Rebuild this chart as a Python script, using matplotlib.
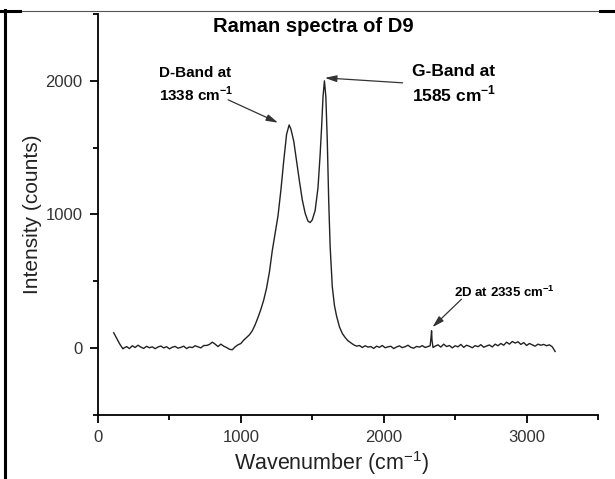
import matplotlib.pyplot as plt
from matplotlib.lines import Line2D
from matplotlib.ticker import MultipleLocator

plt.rcParams['font.family'] = ['Liberation Sans', 'DejaVu Sans']
plt.rcParams['mathtext.fontset'] = 'custom'
plt.rcParams['mathtext.rm'] = 'Liberation Sans'
plt.rcParams['mathtext.bf'] = 'Liberation Sans:bold'

# spectrum (wavenumber in cm-1, intensity in counts)
wn_start = [110, 120, 135, 150, 165, 175]
int_start = [115, 95, 65, 35, 10, -5]

wn_base1 = [180, 200, 220, 240, 260, 280, 300, 320, 340, 360, 380, 400, 420, 440,
            460, 480, 500, 520, 540, 560, 580, 600, 620, 640, 660, 680, 700, 720,
            740, 760, 780, 800, 820, 840, 860, 880, 900, 920, 940, 960]
int_base1 = [0, 12, -3, 18, 5, 22, 8, -2, 14, 3, 10, -4, 9, 16, 2, 11, -5, 7, 13, 0,
             6, 15, -3, 9, 4, 18, 10, 2, 20, 20, 28, 45, 30, 12, 30, 15, 5, -8, -12, 10]

wn_bands = [980, 1000, 1020, 1040, 1060, 1080, 1100, 1120, 1140, 1160, 1180, 1200,
            1220, 1240, 1260, 1280, 1300, 1320, 1338, 1350, 1370, 1390, 1410, 1430,
            1450, 1470, 1485, 1500, 1520, 1540, 1555, 1565, 1575, 1585, 1595, 1605,
            1615, 1625, 1640, 1655, 1670, 1690, 1710, 1730, 1750, 1770, 1790, 1810,
            1830]
int_bands = [25, 35, 60, 80, 100, 130, 175, 230, 290, 360, 450, 570,
             730, 860, 990, 1180, 1400, 1600, 1670, 1640, 1550, 1400, 1250, 1110,
             1010, 950, 940, 960, 1030, 1200, 1450, 1650, 1880, 2000, 1880, 1550,
             1100, 760, 460, 320, 240, 160, 110, 80, 55, 40, 25, 15,
             20]

wn_base2 = [1850, 1870, 1890, 1910, 1930, 1950, 1970, 1990, 2010, 2030, 2050, 2070,
            2090, 2110, 2130, 2150, 2170, 2190, 2210, 2230, 2250, 2270, 2290, 2310,
            2325, 2332, 2335, 2338, 2345]
int_base2 = [5, 18, 8, 12, -2, 15, 6, 20, 3, 10, 14, -3,
             9, 17, 4, 11, 22, 6, 0, 13, 8, 19, 5, 12,
             18, 90, 130, 60, 5]

wn_base3 = [2360, 2380, 2400, 2420, 2440, 2460, 2480, 2500, 2520, 2540, 2560, 2580,
            2600, 2620, 2640, 2660, 2680, 2700, 2720, 2740, 2760, 2780, 2800, 2820,
            2840, 2860, 2880, 2900, 2920, 2940, 2960, 2980, 3000, 3020, 3040, 3060,
            3080, 3100, 3120, 3140, 3160, 3180, 3200]
int_base3 = [15, 25, 8, 30, 12, 20, 2, 18, 10, 28, 6, 22,
             14, 3, 19, 11, 26, 7, 16, 24, 9, 30, 18, 35,
             22, 45, 30, 50, 38, 48, 28, 42, 20, 35, 25, 15,
             30, 22, 28, 18, 25, 10, -25]

wavenumber = wn_start + wn_base1 + wn_bands + wn_base2 + wn_base3
intensity = int_start + int_base1 + int_bands + int_base2 + int_base3

fig = plt.figure(figsize=(6.15, 4.79), dpi=100)
ax = fig.add_axes([98 / 615, 1 - 415 / 479, 500 / 615, 401 / 479])

ax.plot(wavenumber, intensity, color='#222222', lw=1.0)

ax.set_xlim(0, 3500)
ax.set_ylim(-500, 2500)
ax.xaxis.set_major_locator(MultipleLocator(1000))
ax.xaxis.set_minor_locator(MultipleLocator(500))
ax.yaxis.set_major_locator(MultipleLocator(1000))
ax.yaxis.set_minor_locator(MultipleLocator(500))
ax.spines['top'].set_visible(False)
ax.spines['right'].set_visible(False)
for s in ('left', 'bottom'):
    ax.spines[s].set_linewidth(1.3)
ax.tick_params(which='major', direction='out', length=6, width=1.3,
               labelsize=12, labelcolor='#333333', pad=5)
ax.tick_params(which='minor', direction='out', length=3.5, width=1.3)

ax.set_xlabel(r'Wavenumber (cm$^{-1}$)', fontsize=15.5, color='#222222', va='center')
ax.xaxis.set_label_coords(0.468, -0.12)
ax.set_ylabel('Intensity (counts)', fontsize=15, color='#222222', va='center')
ax.yaxis.set_label_coords(-0.131, 0.5)

fig.text(313 / 615, 1 - 27 / 479, 'Raman spectra of D9', ha='center', va='center',
         fontsize=14.5, fontweight='bold')

arrow = dict(arrowstyle='-|>,head_length=0.7,head_width=0.2', color='#333333', lw=0.9,
             shrinkA=0, shrinkB=0)
ax.annotate('', xy=(1260, 1687), xytext=(911, 1858), arrowprops=arrow)
ax.annotate('', xy=(1588, 2022), xytext=(2132, 1985), arrowprops=arrow)
ax.annotate('', xy=(2341, 157), xytext=(2544, 366), arrowprops=arrow)

ax.text(429, 1968, 'D-Band at\n1338 cm$^{\\mathbf{-1}}$', ha='left', va='center',
        fontsize=11, fontweight='bold', linespacing=1.25)
ax.text(2195, 1975, 'G-Band at\n1585 cm$^{\\mathbf{-1}}$', ha='left', va='center',
        fontsize=12.5, fontweight='bold', linespacing=1.3)
ax.text(2495, 418, '2D at 2335 cm$^{\\mathbf{-1}}$', ha='left', va='center',
        fontsize=9.5, fontweight='bold')

# frame lines of the surrounding cell
fig.add_artist(Line2D([20 / 615, 600 / 615], [1 - 10.5 / 479] * 2, color='#555555', lw=0.8))
fig.add_artist(Line2D([0, 20 / 615], [1 - 10.5 / 479] * 2, color='black', lw=2.2))
fig.add_artist(Line2D([600 / 615, 1], [1 - 10.5 / 479] * 2, color='black', lw=2.2))
fig.add_artist(Line2D([4.5 / 615] * 2, [0, 1 - 9.5 / 479], color='black', lw=2.2))

fig.savefig('out.png', dpi=100)
